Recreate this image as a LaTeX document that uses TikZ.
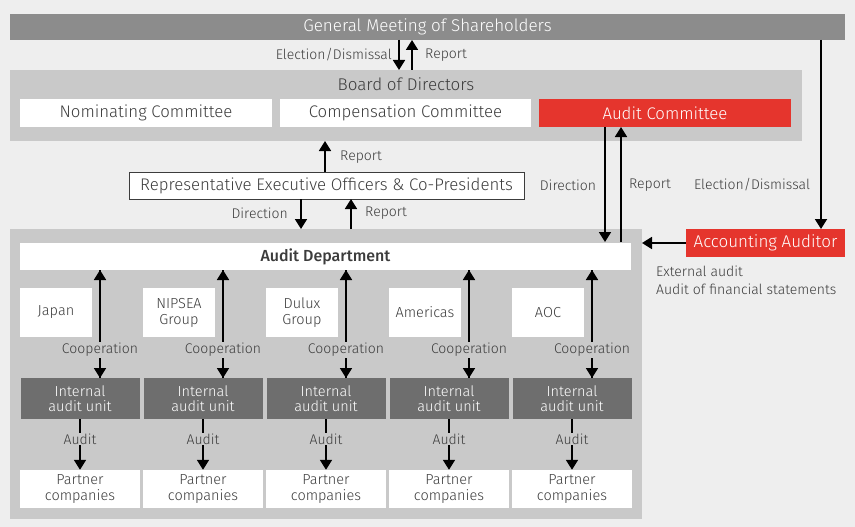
\documentclass[tikz,border=0pt]{standalone}
\usepackage{fontspec}
\setmainfont{Fira Sans Light}[BoldFont={Fira Sans Medium}]
\usetikzlibrary{arrows.meta,positioning,calc}
\definecolor{bgray}{HTML}{EEEEEE}
\definecolor{topgray}{HTML}{8C8C8C}
\definecolor{boxgray}{HTML}{C9C9C9}
\definecolor{unitgray}{HTML}{6E6E6E}
\definecolor{redbox}{HTML}{E5352D}
\definecolor{txt}{HTML}{3C3C3C}
\begin{document}
\begin{tikzpicture}[x=1pt,y=-1pt,
  box/.style={fill=white,inner sep=0pt,text=txt,font=\fontsize{16.8}{18}\selectfont,align=center},
  unit/.style={fill=unitgray,inner sep=0pt,text=white,font=\fontsize{14.5}{15.5}\selectfont,align=center,minimum width=119pt,minimum height=41pt},
  partner/.style={box,minimum width=120pt,minimum height=38pt,font=\fontsize{14.5}{15.5}\selectfont},
  lbl/.style={text=txt,font=\fontsize{14}{16}\selectfont,inner sep=1pt},
  arr/.style={line width=1.8pt,-{Triangle[width=12pt,length=10pt]}},
  ]
\useasboundingbox[fill=bgray] (0,0) rectangle (855,527);

% top
\node[fill=topgray,minimum width=835pt,minimum height=26pt,inner sep=0pt,text=white,font=\fontsize{17}{19}\selectfont] (gms) at (427.5,27) {General Meeting of Shareholders};
\node[fill=boxgray,minimum width=792pt,minimum height=71pt,inner sep=0pt] (board) at (406,105.5) {};
\node[text=txt,font=\fontsize{17}{19}\selectfont] (boardt) at (406,84) {Board of Directors};
\node[box,minimum width=252pt,minimum height=28pt] (nom) at (146,113) {Nominating Committee};
\node[box,minimum width=251pt,minimum height=28pt] (comp) at (405.5,113) {Compensation Committee};
\node[box,fill=redbox,text=white,minimum width=252pt,minimum height=28pt] (acom) at (665,113) {Audit Committee};

\draw[arr] (399,40) -- (399,70);
\draw[arr] (412,70) -- (412,40);
\node[lbl,anchor=east] (ed1) at (393,55) {Election/Dismissal};
\node[lbl,anchor=west] (rp1) at (424,55) {Report};

% representatives
\node[box,draw=txt,line width=0.6pt,minimum width=395pt,minimum height=27pt] (rep) at (326.5,185.5) {Representative Executive Officers \& Co-Presidents};
\draw[arr] (325,172) -- (325,141);
\node[lbl,anchor=west] (rp2) at (339,157) {Report};

% audit department area
\node[fill=boxgray,minimum width=632pt,minimum height=290pt,inner sep=0pt] (area) at (326,374) {};
\node[box,minimum width=611pt,minimum height=27pt,font=\bfseries\fontsize{16}{18}\selectfont] (adept) at (325.5,256.5) {Audit Department};
\draw[arr] (301,199) -- (301,229);
\draw[arr] (351,229) -- (351,199);
\node[lbl,anchor=east] (dr2) at (289,213) {Direction};
\node[lbl,anchor=west] (rp3) at (364,213) {Report};

% audit committee links
\draw[arr] (605,127) -- (605,242);
\draw[arr] (621,242) -- (621,127);
\node[lbl] (dr1) at (568,185) {Direction};
\node[lbl] (rp4) at (650,185) {Report};

% accounting auditor
\node[box,fill=redbox,text=white,minimum width=159pt,minimum height=28pt,font=\fontsize{17}{19}\selectfont] (aaud) at (765.5,243) {Accounting Auditor};
\draw[arr] (aaud.west) -- (642,243);
\draw[arr] (821,40) -- (821,229);
\node[lbl] (ed2) at (752,185) {Election/Dismissal};
\node[lbl,anchor=west] (ext) at (655,271) {External audit};
\node[lbl,anchor=west] (afs) at (655,289) {Audit of financial statements};

% regions
\foreach \name/\txtr [count=\i from 0] in {jp/Japan,np/NIPSEA\\Group,dx/Dulux\\Group,am/Americas,ao/AOC}{
  \pgfmathsetmacro{\xl}{20+123*\i}
  \node[box,minimum width=72pt,minimum height=49pt,font=\fontsize{14.5}{16}\selectfont] (\name) at (\xl+36,312.5) {\txtr};
  \node[unit] (u\name) at (\xl+60,398.5) {Internal\\audit unit};
  \node[partner] (p\name) at (\xl+60,489) {Partner\\companies};
  \draw[arr] (\xl+80,378) -- (\xl+80,270);
  \draw[arr] (\xl+80,270) -- (\xl+80,378);
  \node[lbl,fill=boxgray] (c\name) at (\xl+80,350) {Cooperation};
  \draw[arr] (u\name.south) -- (p\name.north);
  \node[lbl,fill=boxgray] (a\name) at (\xl+60,439) {Audit};
}
\end{tikzpicture}
\end{document}
